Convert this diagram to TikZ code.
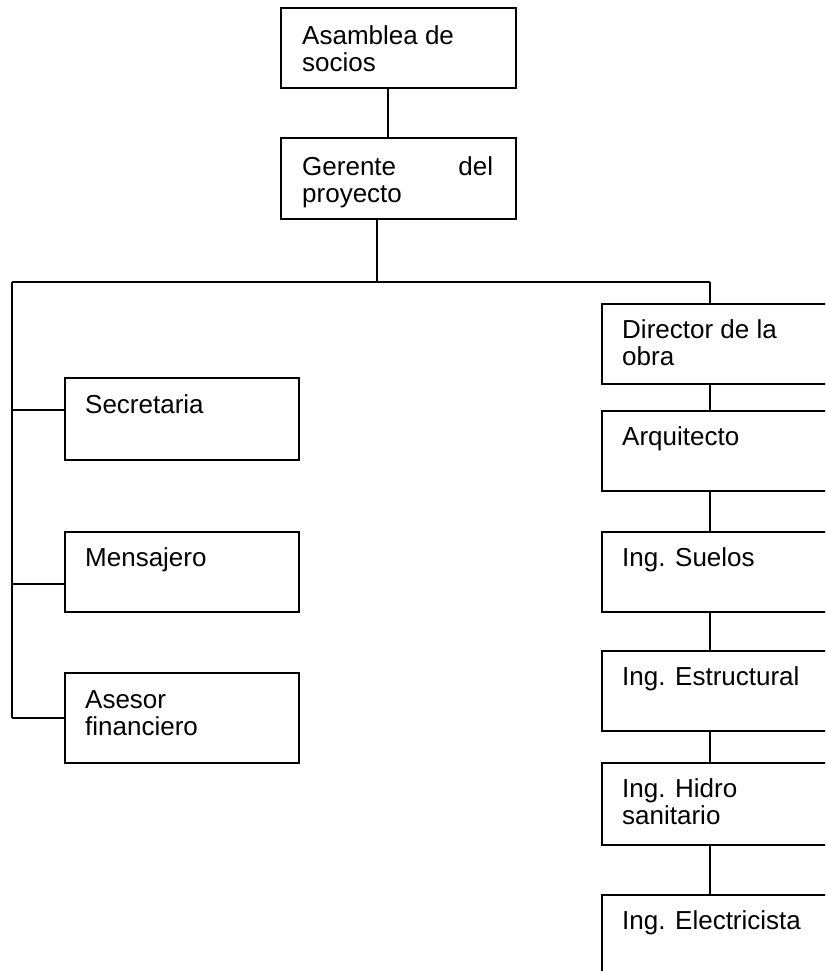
\documentclass[tikz,border=0pt]{standalone}
\usepackage{fontspec}
\setmainfont{Liberation Sans}
\begin{document}
\begin{tikzpicture}[x=1pt,y=-1pt,
  orgbox/.style={draw, line width=1.8pt, rectangle, inner sep=0pt, anchor=north west, minimum width=#1},
  orgbox/.default=234pt,
  txt/.style={anchor=base west, inner sep=0pt, font=\fontsize{26}{27}\selectfont},
  link/.style={line width=1.8pt}]
\useasboundingbox (0,0) rectangle (825,971);
\clip (0,0) rectangle (825,971);
% boxes
\node[orgbox=235pt, minimum height=80pt] (as) at (280,7) {};
\node[orgbox=235pt, minimum height=81pt] (ge) at (280,137) {};
\node[orgbox, minimum height=82pt] (se) at (64,377) {};
\node[orgbox, minimum height=80pt] (me) at (64,531) {};
\node[orgbox, minimum height=90pt] (ae) at (64,672) {};
\node[orgbox=240pt, minimum height=80pt] (di) at (601,303) {};
\node[orgbox=240pt, minimum height=80pt] (ar) at (601,410) {};
\node[orgbox=240pt, minimum height=80pt] (su) at (601,531) {};
\node[orgbox=240pt, minimum height=80pt] (es) at (601,650) {};
\node[orgbox=240pt, minimum height=82pt] (hi) at (601,762) {};
\node[orgbox=240pt, minimum height=120pt] (el) at (601,894) {};
% texts
\node[txt] (as1) at ([xshift=22pt,yshift=-38pt]as.north west) {Asamblea de};
\node[txt] (as2) at ([xshift=22pt,yshift=-65pt]as.north west) {socios};
\node[txt] (ge1) at ([xshift=22pt,yshift=-38pt]ge.north west) {\hbox to 191pt{Gerente\hfill del}};
\node[txt] (ge2) at ([xshift=22pt,yshift=-65pt]ge.north west) {proyecto};
\node[txt] (se1) at ([xshift=21pt,yshift=-36pt]se.north west) {Secretaria};
\node[txt] (me1) at ([xshift=21pt,yshift=-35pt]me.north west) {Mensajero};
\node[txt] (ae1) at ([xshift=21pt,yshift=-36pt]ae.north west) {Asesor};
\node[txt] (ae2) at ([xshift=21pt,yshift=-63pt]ae.north west) {financiero};
\node[txt] (di1) at ([xshift=21pt,yshift=-35pt]di.north west) {Director de la};
\node[txt] (di2) at ([xshift=21pt,yshift=-62pt]di.north west) {obra};
\node[txt] (ar1) at ([xshift=21pt,yshift=-35pt]ar.north west) {Arquitecto};
\node[txt] (su1) at ([xshift=21pt,yshift=-35pt]su.north west) {Ing. Suelos};
\node[txt] (es1) at ([xshift=21pt,yshift=-35pt]es.north west) {Ing. Estructural};
\node[txt] (hi1) at ([xshift=21pt,yshift=-35pt]hi.north west) {Ing. Hidro};
\node[txt] (hi2) at ([xshift=21pt,yshift=-62pt]hi.north west) {sanitario};
\node[txt] (el1) at ([xshift=21pt,yshift=-35pt]el.north west) {Ing. Electricista};
% connector coordinates
\coordinate (x1) at (388,0);
\coordinate (x2) at (377,282);
\coordinate (hl) at (12,282);
\coordinate (hr) at (710,282);
\coordinate (b1) at (12,410);
\coordinate (b2) at (12,584);
\coordinate (b3) at (12,718);
% connectors
\draw[link] (as.south -| x1) -- (ge.north -| x1);
\draw[link] (ge.south -| x2) -- (x2);
\draw[link] (hl) -- (hr);
\draw[link] (hl) -- (b3);
\draw[link] (b1) -- (b1 -| se.west);
\draw[link] (b2) -- (b2 -| me.west);
\draw[link] (b3) -- (b3 -| ae.west);
\draw[link] (hr) -- (hr |- di.north);
\draw[link] (di.south -| hr) -- (ar.north -| hr);
\draw[link] (ar.south -| hr) -- (su.north -| hr);
\draw[link] (su.south -| hr) -- (es.north -| hr);
\draw[link] (es.south -| hr) -- (hi.north -| hr);
\draw[link] (hi.south -| hr) -- (el.north -| hr);
\end{tikzpicture}
\end{document}
